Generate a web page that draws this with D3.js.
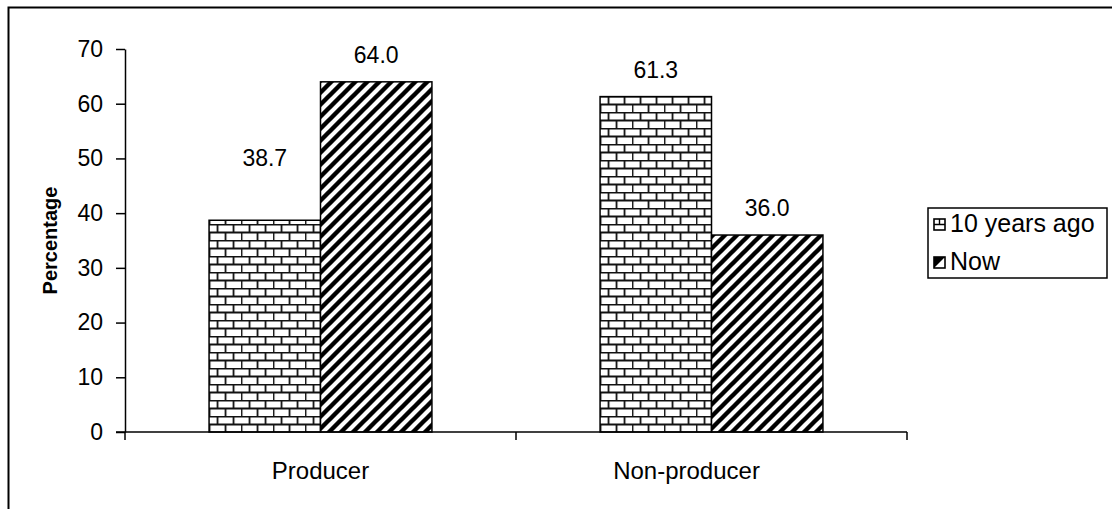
<!DOCTYPE html>
<html>
<head>
<meta charset="utf-8">
<script src="https://cdn.jsdelivr.net/npm/d3@7"></script>
<style>
  body { margin: 0; background: #fff; }
  svg { display: block; font-family: "Liberation Sans", Arial, sans-serif; }
</style>
</head>
<body>
<div id="chart"></div>
<script>
// chart data
var categories = ["Producer", "Non-producer"]
var seriesNames = ["10 years ago", "Now"]
var tenYearsAgo = [38.7, 61.3]
var now = [64.0, 36.0]
var yTicks = [0, 10, 20, 30, 40, 50, 60, 70]

var W = 1112, H = 509
var margin = {top: 49, right: 205, bottom: 77, left: 125}
var fontSize = 23

var svg = d3.select("#chart").append("svg")
  .attr("width", W).attr("height", H)

var defs = svg.append("defs")

// brick pattern
var brick = defs.append("pattern")
  .attr("id", "brick").attr("patternUnits", "userSpaceOnUse")
  .attr("width", 32).attr("height", 16)
brick.append("rect").attr("width", 32).attr("height", 16).attr("fill", "#fff")
brick.append("path")
  .attr("d", "M0,0.5H32M0,8.5H32M8.5,0V8M24.5,0V8M0.5,8V16M16.5,8V16")
  .attr("stroke", "#111").attr("stroke-width", 1.8).attr("fill", "none")

// diagonal stripes
var diag = defs.append("pattern")
  .attr("id", "diag").attr("patternUnits", "userSpaceOnUse")
  .attr("width", 12).attr("height", 12)
diag.append("rect").attr("width", 12).attr("height", 12).attr("fill", "#fff")
diag.append("path")
  .attr("d", "M-3,3L3,-3M0,12L12,0M9,15L15,9")
  .attr("stroke", "#000").attr("stroke-width", 4.4)

// outer frame
svg.append("rect")
  .attr("x", 8.5).attr("y", 7.5)
  .attr("width", W + 20).attr("height", H + 20)
  .attr("fill", "none").attr("stroke", "#000").attr("stroke-width", 2)

var x0 = d3.scaleBand()
  .domain(categories)
  .range([margin.left, W - margin.right])
  .paddingInner(0.43).paddingOuter(0.215)

var x1 = d3.scaleBand()
  .domain(seriesNames)
  .range([0, x0.bandwidth()])

var y = d3.scaleLinear()
  .domain([0, 70])
  .range([H - margin.bottom, margin.top])

var rows = categories.map(function(c, i) {
  return {cat: c, vals: [tenYearsAgo[i], now[i]]}
})
var fills = ["url(#brick)", "url(#diag)"]

// bars
var groups = svg.append("g").selectAll("g")
  .data(rows).join("g")
  .attr("transform", function(d) { return "translate(" + x0(d.cat) + ",0)" })

groups.selectAll("rect")
  .data(function(d) { return d.vals.map(function(v, k) { return {k: k, v: v} }) })
  .join("rect")
  .attr("x", function(d) { return x1(seriesNames[d.k]) })
  .attr("width", x1.bandwidth())
  .attr("y", function(d) { return y(d.v) })
  .attr("height", function(d) { return y(0) - y(d.v) })
  .attr("fill", function(d) { return fills[d.k] })
  .attr("stroke", "#000").attr("stroke-width", 1.5)

// value labels
groups.selectAll("text")
  .data(function(d) { return d.vals.map(function(v, k) { return {k: k, v: v} }) })
  .join("text")
  .attr("x", function(d) { return x1(seriesNames[d.k]) + x1.bandwidth() / 2 })
  .attr("y", function(d) {
    // the 38.7 label sits higher in the original
    return y(d.v) - (d.v === 38.7 ? 54 : 19)
  })
  .attr("text-anchor", "middle")
  .attr("font-size", fontSize)
  .text(function(d) { return d.v.toFixed(1) })

// y axis
var yAxis = svg.append("g")
  .attr("transform", "translate(" + margin.left + ",0)")
  .call(d3.axisLeft(y).tickValues(yTicks).tickSize(9).tickSizeOuter(0).tickPadding(13))
yAxis.selectAll("text").attr("font-size", fontSize).attr("fill", "#000")
  .attr("font-family", "Liberation Sans, Arial, sans-serif")
yAxis.selectAll("line").attr("stroke", "#000").attr("stroke-width", 1.5)
yAxis.select(".domain").attr("stroke", "#000").attr("stroke-width", 1.5)

// x axis
var xAxisY = y(0)
var xg = svg.append("g")
xg.append("line")
  .attr("x1", margin.left - 9).attr("x2", W - margin.right)
  .attr("y1", xAxisY).attr("y2", xAxisY)
  .attr("stroke", "#000").attr("stroke-width", 1.5)
var bounds = [margin.left, (x0(categories[0]) + x0.bandwidth() + x0(categories[1])) / 2, W - margin.right]
xg.selectAll("line.tk")
  .data(bounds).join("line").attr("class", "tk")
  .attr("x1", function(d) { return d }).attr("x2", function(d) { return d })
  .attr("y1", xAxisY).attr("y2", xAxisY + 8)
  .attr("stroke", "#000").attr("stroke-width", 1.5)
xg.selectAll("text")
  .data(categories).join("text")
  .attr("x", function(d, i) {
    // second label sits a little left of its band centre in the original
    return x0(d) + x0.bandwidth() / 2 - (i === 1 ? 25 : 0)
  })
  .attr("y", xAxisY + 47)
  .attr("text-anchor", "middle")
  .attr("font-size", fontSize + 1)
  .text(function(d) { return d })

// y axis title
svg.append("text")
  .attr("transform", "translate(57," + ((y(0) + y(70)) / 2) + ") rotate(-90)")
  .attr("text-anchor", "middle")
  .attr("font-size", 20).attr("font-weight", "bold")
  .text("Percentage")

// legend
var lg = svg.append("g").attr("transform", "translate(928,208)")
lg.append("rect").attr("width", 179).attr("height", 70)
  .attr("fill", "#fff").attr("stroke", "#000").attr("stroke-width", 1.5)
var items = lg.selectAll("g.item")
  .data(seriesNames).join("g").attr("class", "item")
  .attr("transform", function(d, i) { return "translate(6," + (11 + i * 38) + ")" })
items.append("rect")
  .attr("width", 11).attr("height", 11)
  .attr("fill", "#fff").attr("stroke", "#000").attr("stroke-width", 1.6)
items.filter(function(d, i) { return i === 0 })
  .append("path").attr("d", "M0,5.5H11M5.5,0V5.5").attr("stroke", "#000").attr("stroke-width", 1.4)
items.filter(function(d, i) { return i === 1 })
  .append("path").attr("d", "M0,11L11,0L0,0Z").attr("fill", "#000")
items.append("text")
  .attr("x", 16).attr("y", 13)
  .attr("font-size", fontSize + 2)
  .text(function(d) { return d })
</script>
</body>
</html>
